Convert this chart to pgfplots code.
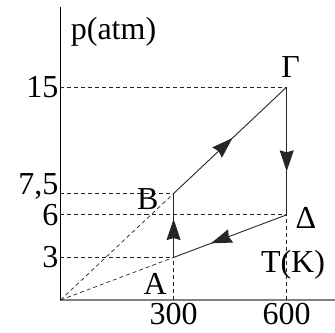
\documentclass[border=0pt]{standalone}
\usepackage{fontspec}
\setmainfont{Liberation Serif}
\usepackage{pgfplots}
\pgfplotsset{compat=1.18}
\usetikzlibrary{arrows.meta,decorations.markings}

\newcommand\lbl{\fontsize{32bp}{36bp}\selectfont}
\newcommand\sevenhalf{7,5}

\begin{document}
\begin{tikzpicture}
\useasboundingbox (-60.5bp,-33bp) rectangle (274.5bp,300bp);
\begin{axis}[
  at={(0,0)}, anchor=origin,
  x=0.377bp, y=14.2bp,
  xmin=0, xmax=728, ymin=0, ymax=20.63,
  axis lines=left,
  axis line style={-},
  x axis line style={draw=black!50, line width=1.3bp},
  y axis line style={draw=black, line width=0.9bp},
  xtick={300,600}, xticklabels={300,600},
  ytick={3,6,15}, yticklabels={3,6,15},
  extra y ticks={7.5}, extra y tick labels={\sevenhalf},
  extra y tick style={yticklabel style={yshift=7bp}},
  major tick length=0pt, tick style={draw=none},
  tick label style={font=\lbl},
  xticklabel style={inner sep=3bp},
  yticklabel style={inner sep=2bp},
  /pgf/number format/assume math mode=true,
  clip=false,
  guide/.style={black!85, line width=0.7bp, dash pattern=on 4bp off 3bp},
  process/.style={black!85, line width=0.9bp},
  flow/.style={postaction={decorate}, decoration={markings,
    mark=at position #1 with {\arrow{Stealth[length=21bp,width=14bp,inset=2bp]}}}},
]
% reference lines to the axes
\addplot[guide, no markers] coordinates {(0,15) (600,15)};
\addplot[guide, no markers] coordinates {(0,7.5) (300,7.5)};
\addplot[guide, no markers] coordinates {(0,6) (600,6)};
\addplot[guide, no markers] coordinates {(0,3) (300,3)};
\addplot[guide, no markers] coordinates {(300,0) (300,3)};
\addplot[guide, no markers] coordinates {(600,0) (600,6)};
% isochores through the origin
\addplot[guide, no markers] coordinates {(0,0) (300,7.5)};
\addplot[guide, no markers] coordinates {(0,0) (300,3)};
% the cycle A -> B -> Gamma -> Delta -> A
\addplot[process, no markers, flow=0.6]  coordinates {(300,3) (300,7.5)};
\addplot[process, no markers, flow=0.52] coordinates {(300,7.5) (600,15)};
\addplot[process, no markers, flow=0.66] coordinates {(600,15) (600,6)};
\addplot[process, no markers, flow=0.67] coordinates {(600,6) (300,3)};
% state labels
\node[font=\lbl, inner sep=0pt, anchor=south, xshift=4bp, yshift=9bp] at (axis cs:600,15) {Γ};
\node[font=\lbl, inner sep=0pt, xshift=-25.8bp, yshift=-5.5bp] at (axis cs:300,7.5) {B};
\node[font=\lbl, inner sep=0pt, xshift=-18.3bp, yshift=-26.6bp] at (axis cs:300,3) {A};
\node[font=\lbl, inner sep=0pt, xshift=19.3bp, yshift=-3.2bp] at (axis cs:600,6) {Δ};
% axis titles
\node[font=\lbl, inner sep=0pt] at (axis cs:616.7,2.46) {T(K)};
\node[font=\lbl, inner sep=0pt] at (axis cs:140.6,18.91) {p(atm)};
\end{axis}
\end{tikzpicture}
\end{document}
